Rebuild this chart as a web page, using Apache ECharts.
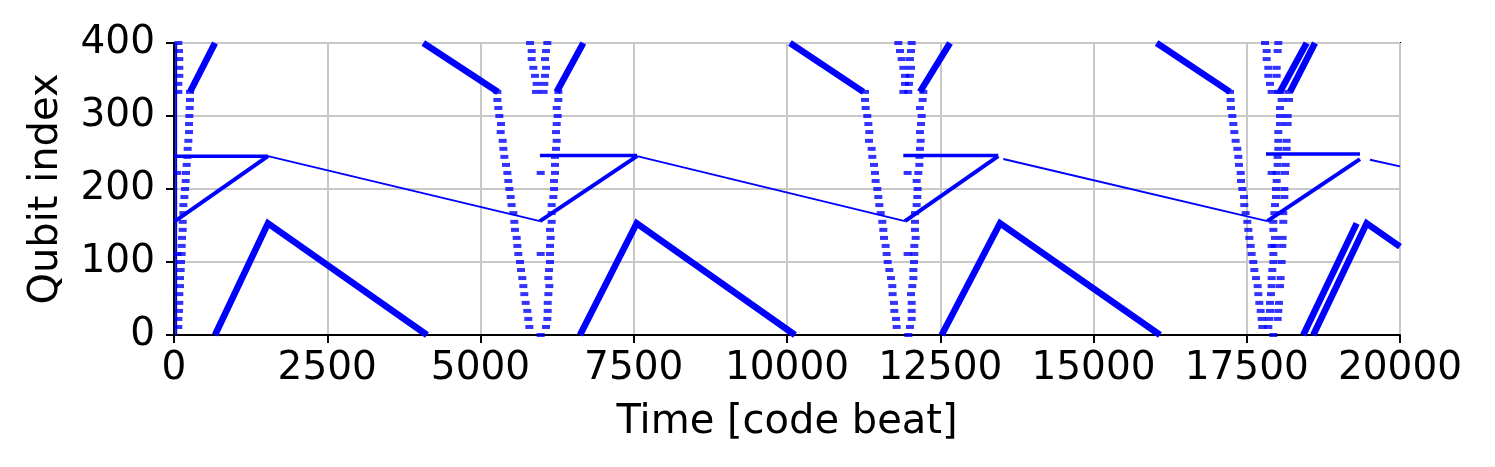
<!DOCTYPE html>
<html><head><meta charset="utf-8">
<script src="https://cdn.jsdelivr.net/npm/echarts@6/dist/echarts.min.js"></script>
<style>html,body{margin:0;padding:0;background:#fff}#c{width:1495px;height:467px}</style>
</head><body><div id="c"></div>
<script>
// qubit rows of the dash columns (bottom to top)
const levels = [11,22,33,44,56,67,78,89,100,111,122,133,144,155,167,178,189,200,211,222,233,244,255,266,278,289,300,311,322,333];
const upperLevels = [333,344,355,366,378,389,400];

// dash columns: x (code beat) per level
const p1Right = [71,71,82,87,87,98,98,109,114,125,125,131,142,142,153,153,169,180,191,196,207,218,223,234,245,245,250,256,261,261];
const p2Left  = [5797,5780,5764,5737,5715,5699,5682,5661,5644,5617,5601,5590,5563,5552,5536,5508,5492,5470,5454,5438,5416,5389,5373,5362,5329,5334,5307,5291,5275,5275];
const p2Right = [6069,6090,6096,6096,6107,6123,6107,6118,6134,6134,6134,6145,6134,6161,6161,6161,6188,6199,6199,6215,6215,6215,6232,6243,6232,6243,6259,6243,6270,6270];
const p3Left  = [11789,11778,11751,11745,11723,11718,11696,11669,11642,11626,11609,11582,11571,11555,11528,11506,11490,11473,11446,11435,11419,11392,11381,11337,11343,11327,11310,11283,11272,11272];
const p3Right = [12006,12034,12034,12034,12023,12044,12061,12061,12072,12077,12077,12099,12088,12088,12088,12115,12126,12131,12115,12142,12159,12159,12169,12180,12169,12186,12197,12169,12213,12224];
const p4Left  = [17754,17743,17727,17705,17689,17678,17651,17624,17607,17580,17564,17542,17526,17509,17482,17460,17455,17428,17406,17401,17373,17363,17346,17319,17297,17281,17265,17243,17237,17227];
const p4RightA = [17852,17863,17879,17879,17895,17906,17906,17917,17934,17934,17950,17961,17934,17934,17950,17961,17977,17977,17988,17988,18004,18004,18015,18015,18015,18042,18042,18042,18069,18042];
const p4RightB = [null,18004,18015,18026,null,18042,18053,null,18069,null,18080,18086,null,18096,18096,null,18113,18113,null,18124,18135,null,18151,18151,null,18167,18167,null,18189,18178];

// dashes above qubit 333
const p1UpperL = [71,71,87,87,87,82,71];
const p2UpperL = [5905,5916,5889,5862,5835,5835,5808];
const p2UpperR = [6030,6041,6052,6069,6052,6069,6090];
const p3UpperL = [11898,11925,11925,11898,11870,11843,11816];
const p3UpperR = [11979,11990,12006,12023,12006,12023,12034];
const p4UpperL = [17906,17879,17852,17852,17825,17825,17798];
const p4UpperR = [18015,null,17988,17988,null,18004,18015];

// isolated dashes [time, qubit]
const extraDashes = [[55,222],[55,111],[5982,222],[5982,111],[5982,0],[11968,222],[11968,111],[11979,0],[17906,222],[17906,122],[17934,0]];

// thick ramps (vertices [time, qubit])
const thickRamps = [
  [[669,0],[1533,153],[4127,0]],
  [[6623,0],[7548,153],[10130,0]],
  [[12523,0],[13475,153],[16085,0]],
  [[18422,0],[19293,153]],
  [[18585,0],[19456,153],[20000,121]],
  [[261,333],[669,400]],
  [[4067,400],[5285,333]],
  [[6243,333],[6677,400]],
  [[10049,400],[11245,333]],
  [[12169,333],[12659,400]],
  [[16030,400],[17226,333]],
  [[18042,333],[18477,400]],
  [[18205,333],[18613,400]]
];
// medium diagonals
const mediumRamps = [
  [[0,155],[1533,245]],
  [[5970,156],[7553,245]],
  [[11925,156],[13446,245]],
  [[17834,156],[19347,241]]
];
// horizontal bars at ~245
const flatBars = [
  [[0,245],[1533,245]],
  [[5970,246],[7553,246]],
  [[11897,246],[13446,246]],
  [[17814,248],[19347,248]]
];
// thin descending lines
const thinRamps = [
  [[1533,245],[5970,156]],
  [[7553,245],[11925,156]],
  [[13529,241],[17834,156]],
  [[19510,240],[20000,231]],
  [[35,0],[35,400]]
];

const xTicks = [0,2500,5000,7500,10000,12500,15000,17500,20000];
const yTicks = [0,100,200,300,400];

const BLUE = '#0000ff';
function col(xs, ys){ const out=[]; xs.forEach((x,i)=>{ if(x!==null) out.push([x, ys[i]]); }); return out; }

const dashData = [].concat(
  col(p1Right, levels), col(p2Left, levels), col(p2Right, levels),
  col(p3Left, levels), col(p3Right, levels), col(p4Left, levels),
  col(p4RightA, levels), col(p4RightB, levels),
  col(p1UpperL, upperLevels), col(p2UpperL, upperLevels), col(p2UpperR, upperLevels),
  col(p3UpperL, upperLevels), col(p3UpperR, upperLevels),
  col(p4UpperL, upperLevels), col(p4UpperR, upperLevels),
  extraDashes
);

const series = [];
function addLines(list, w){
  list.forEach(pts => series.push({type:'line', data:pts, showSymbol:false, symbol:'none', silent:true,
    lineStyle:{color:BLUE, width:w, cap:'butt', join:'miter'}, clip:true}));
}
addLines(thinRamps, 2);
addLines(flatBars, 3.5);
addLines(mediumRamps, 4);
addLines(thickRamps, 6.5);
series.push({type:'scatter', data:dashData, symbol:'rect', symbolSize:[8,4], itemStyle:{color:BLUE}, clip:true, silent:true});

const FONT = 'DejaVu Sans';
const chart = echarts.init(document.getElementById('c'), null, {renderer:'canvas'});
chart.setOption({
  animation:false,
  backgroundColor:'#fff',
  grid:{left:174, right:95, top:43, bottom:132, show:true, borderColor:'#000', borderWidth:2, backgroundColor:'transparent'},
  xAxis:{type:'value', min:xTicks[0], max:xTicks[xTicks.length-1], interval:2500,
    name:'Time [code beat]', nameLocation:'middle', nameGap:68,
    nameTextStyle:{fontFamily:FONT, fontSize:40, color:'#000'},
    axisLine:{show:true, lineStyle:{color:'#000', width:2}},
    axisTick:{show:true, length:8, lineStyle:{color:'#000', width:2}},
    axisLabel:{fontFamily:FONT, fontSize:39, color:'#000', margin:14, formatter: v => String(v)},
    splitLine:{show:true, lineStyle:{color:'#c8c8c8', width:2}}},
  yAxis:{type:'value', min:yTicks[0], max:yTicks[yTicks.length-1], interval:100,
    name:'Qubit index', nameLocation:'middle', nameGap:107,
    nameTextStyle:{fontFamily:FONT, fontSize:40, color:'#000'},
    axisLine:{show:true, lineStyle:{color:'#000', width:2}},
    axisTick:{show:true, length:8, lineStyle:{color:'#000', width:2}},
    axisLabel:{fontFamily:FONT, fontSize:39, color:'#000', margin:19, formatter: v => String(v)},
    splitLine:{show:true, lineStyle:{color:'#c8c8c8', width:2}}},
  series: series
});
</script></body></html>
